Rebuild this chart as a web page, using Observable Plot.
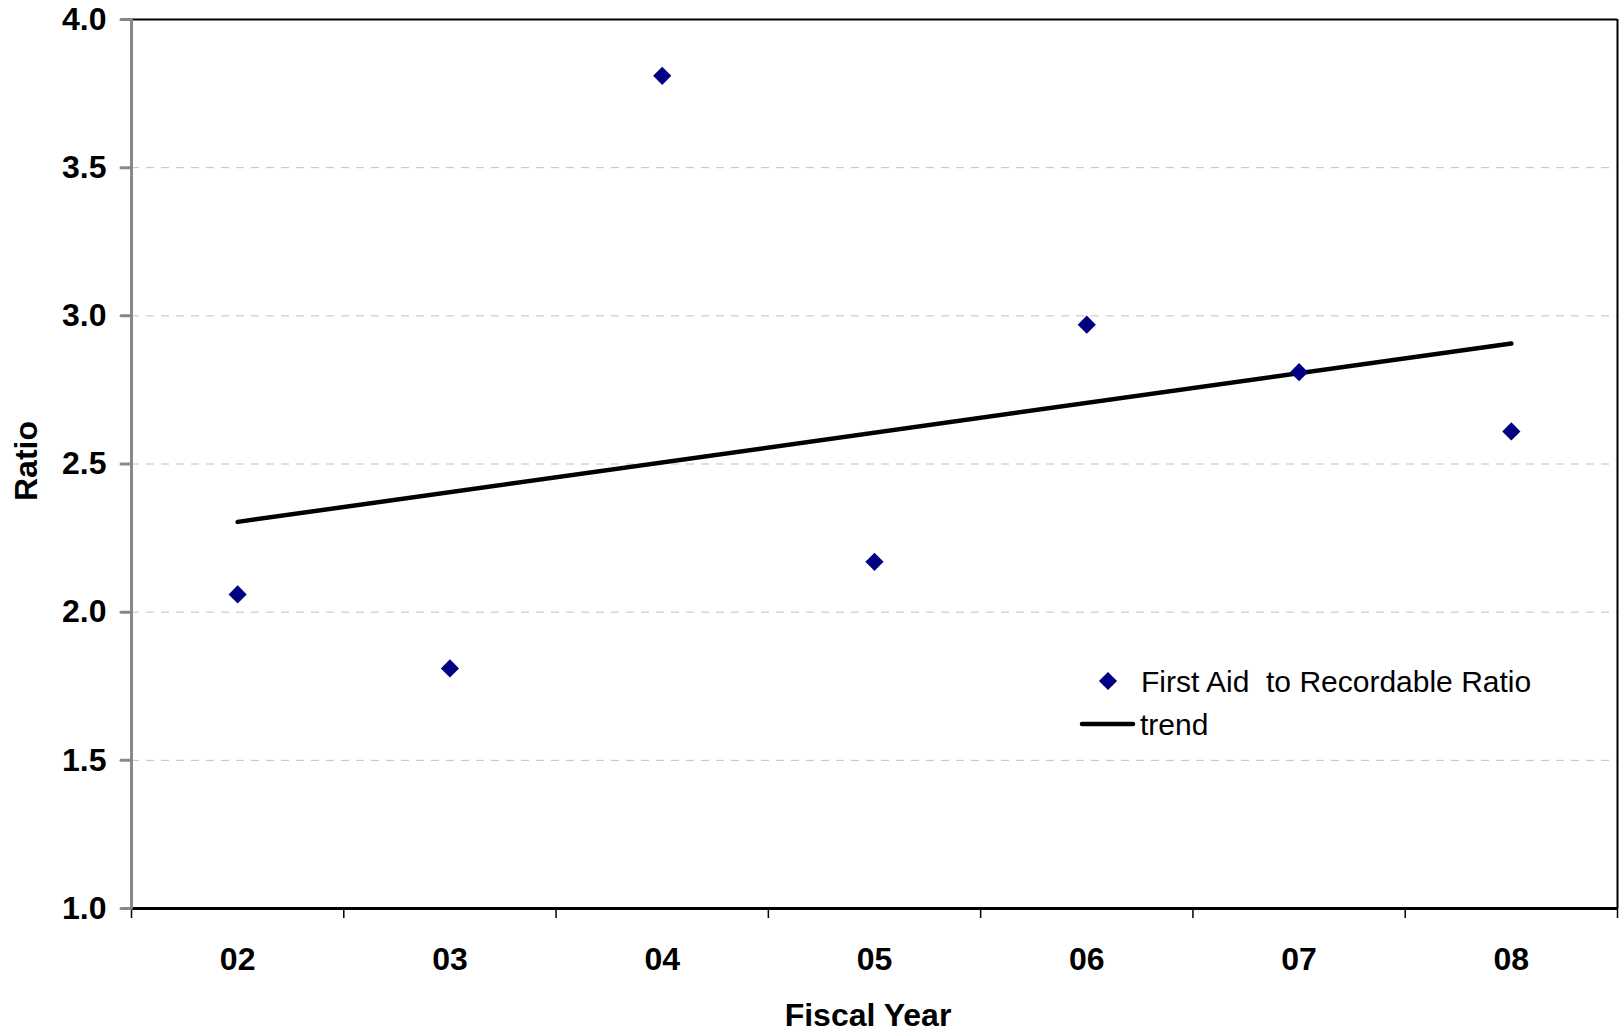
<!DOCTYPE html>
<html><head><meta charset="utf-8">
<script src="https://cdn.jsdelivr.net/npm/d3@7"></script>
<script src="https://cdn.jsdelivr.net/npm/@observablehq/plot@0.6"></script>
<style>
html,body{margin:0;padding:0;background:#fff;}
#wrap{position:relative;width:1619px;height:1033px;font-family:"Liberation Sans",Arial,sans-serif;}
#overlay{position:absolute;left:0;top:0;pointer-events:none;}
</style></head><body><div id="wrap"></div>
<script>
const years = ["02","03","04","05","06","07","08"];
const ratios = [2.06, 1.81, 3.81, 2.17, 2.97, 2.81, 2.61];
const yTicks = [1.0, 1.5, 2.0, 2.5, 3.0, 3.5, 4.0];
const seriesName = "First Aid  to Recordable Ratio";
const trendName = "trend";
const xTitle = "Fiscal Year";
const yTitle = "Ratio";

const data = years.map((year, i) => ({i, year, ratio: ratios[i]}));
const xEdges = years.map((_, i) => i - 0.5).concat([years.length - 0.5]);
const xCenters = years.map((_, i) => i);
const xDomain = [xEdges[0], xEdges[xEdges.length - 1]];
const yDomain = [yTicks[0], yTicks[yTicks.length - 1]];
const FONT = '"Liberation Sans", Arial, sans-serif';

const chart = Plot.plot({
  width: 1619, height: 1033,
  marginLeft: 131, marginRight: 2, marginTop: 19, marginBottom: 125,
  style: {fontFamily: FONT, background: "#fff", overflow: "visible"},
  x: {type: "linear", domain: xDomain, axis: null},
  y: {type: "linear", domain: yDomain, axis: null},
  marks: [
    Plot.gridY(yTicks.slice(1, -1), {stroke: "#c0c0c0", strokeOpacity: 1, strokeWidth: 1, strokeDasharray: "8,7"}),
    Plot.ruleY([yDomain[1]], {stroke: "#000", strokeWidth: 2}),
    Plot.ruleX([xDomain[1]], {stroke: "#000", strokeWidth: 2}),
    Plot.axisX(xEdges, {anchor: "bottom", tickSize: 10, tickFormat: () => "", stroke: "#000", strokeWidth: 1.5, label: null}),
    Plot.axisX(xCenters, {anchor: "bottom", tickSize: 0, tickPadding: 39, tickFormat: i => years[i], fontSize: 32, fontWeight: "bold", fill: "#000", label: null}),
    Plot.ruleY([yDomain[0]], {stroke: "#000", strokeWidth: 3}),
    Plot.axisY(yTicks, {anchor: "left", tickSize: 10, tickPadding: 15, tickFormat: d3.format(".1f"), stroke: "#888", strokeWidth: 3, strokeLinecap: "round", fontSize: 32, fontWeight: "bold", fill: "#000", label: null}),
    Plot.ruleX([xDomain[0]], {stroke: "#888", strokeWidth: 3}),
    Plot.linearRegressionY(data, {x: "i", y: "ratio", ci: 0, stroke: "#000", strokeWidth: 4.5, strokeLinecap: "round"}),
    Plot.dot(data, {x: "i", y: "ratio", symbol: "diamond2", r: 8.2, fill: "#000080", stroke: "none"})
  ]
});
const wrap = document.getElementById("wrap");
wrap.appendChild(chart);

// Overlay: axis titles and legend
const ov = d3.select(wrap).append("svg").attr("id", "overlay")
  .attr("width", 1619).attr("height", 1033)
  .style("font-family", FONT);
ov.append("text").text(yTitle)
  .attr("transform", "translate(37,461) rotate(-90)")
  .attr("text-anchor", "middle").attr("font-size", 32).attr("font-weight", "bold").attr("fill", "#000");
ov.append("text").text(xTitle)
  .attr("x", 868).attr("y", 1026)
  .attr("text-anchor", "middle").attr("font-size", 32).attr("font-weight", "bold").attr("fill", "#000");
// legend
ov.append("path").attr("d", d3.symbol(d3.symbolDiamond2, 210)())
  .attr("transform", "translate(1108,681)").attr("fill", "#000080");
ov.append("text").text(seriesName).attr("x", 1141).attr("y", 692)
  .attr("font-size", 30).attr("fill", "#000").style("white-space", "pre");
ov.append("line").attr("x1", 1082).attr("x2", 1133).attr("y1", 724).attr("y2", 724)
  .attr("stroke", "#000").attr("stroke-width", 4.5).attr("stroke-linecap", "round");
ov.append("text").text(trendName).attr("x", 1140).attr("y", 735)
  .attr("font-size", 30).attr("fill", "#000");
</script>
</body></html>
